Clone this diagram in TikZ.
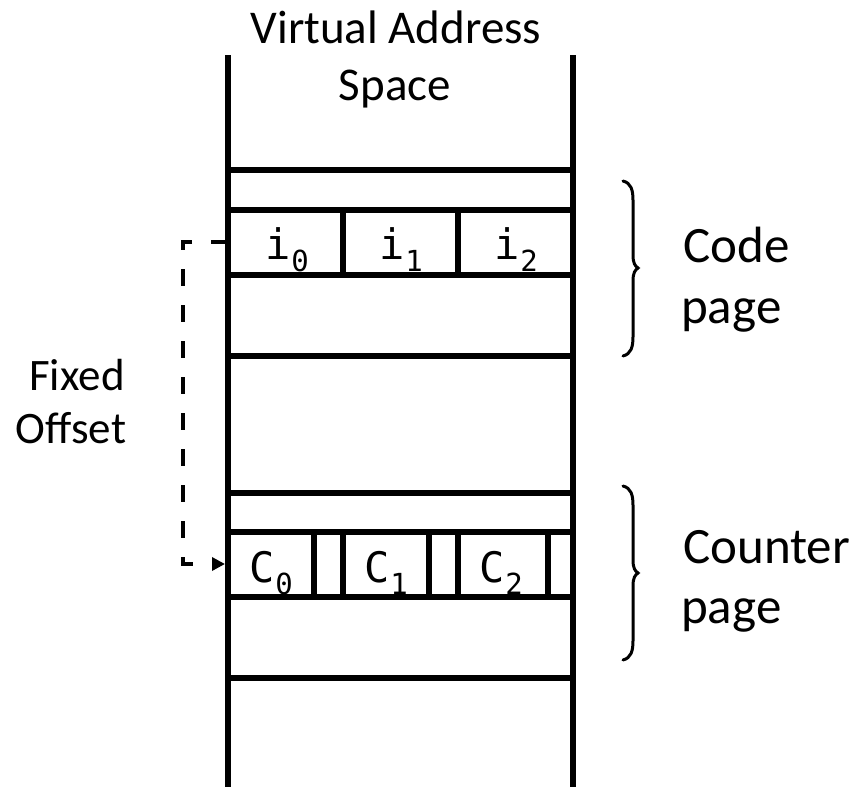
\documentclass[tikz,border=0pt]{standalone}
\usepackage{fontspec}
\setmainfont{Carlito}
\newfontfamily\codefont{DejaVu Sans Mono}
\usetikzlibrary{arrows.meta}
% monospace cell label with a lowered small index
\newcommand{\cellsub}[2]{{\codefont\fontsize{42}{42}\selectfont #1\hspace{1pt}\raisebox{-12pt}{\fontsize{29}{29}\selectfont #2}}}
\begin{document}
\begin{tikzpicture}[x=1pt,y=-1pt,
  wall/.style={line width=6pt},
  bar/.style={line width=6pt},
  ttl/.style={font=\fontsize{47}{57}\selectfont, anchor=base, inner sep=0pt},
  side/.style={font=\fontsize{45}{55}\selectfont, anchor=base, inner sep=0pt},
  pagelbl/.style={font=\fontsize{51}{61}\selectfont, anchor=base west, inner sep=0pt},
  cellt/.style={anchor=base, inner sep=0pt},
  offset/.style={line width=4pt, dash pattern=on 17pt off 19pt},
  bracestyle/.style={line width=3pt, line cap=round}]
\useasboundingbox (0,0) rectangle (863,787);

% address space walls
\draw[wall] (228,55) -- (228,787);
\draw[wall] (573,55) -- (573,787);

% horizontal page boundaries
\foreach \y in {170,210,275,356,493,532,597,678}
  \draw[bar] (228,\y) -- (573,\y);

% code row dividers
\draw[bar] (343,210) -- (343,275);
\draw[bar] (458,210) -- (458,275);
% counter row dividers
\foreach \x in {314,343,429,458,548}
  \draw[bar] (\x,532) -- (\x,597);

% title
\node[ttl] (title1) at (396,43) {Virtual Address};
\node[ttl] (title2) at (395,100) {Space};

% cell labels
\node[cellt] (i0) at (287,259) {\cellsub{i}{0}};
\node[cellt] (i1) at (401,259) {\cellsub{i}{1}};
\node[cellt] (i2) at (516,259) {\cellsub{i}{2}};
\node[cellt] (c0) at (271,582) {\cellsub{C}{0}};
\node[cellt] (c1) at (386,582) {\cellsub{C}{1}};
\node[cellt] (c2) at (501,582) {\cellsub{C}{2}};

% row anchors for the offset arrow
\coordinate (coderow) at (228,242);
\coordinate (ctrrow) at (225,564);

\draw[offset, -{Triangle[length=13pt,width=13pt]}]
  (coderow) -- (183,242) -- (183,564) -- (ctrrow);

\node[side] (fixed) at (77,390) {Fixed};
\node[side] (offsetlbl) at (71,443) {Offset};

% braces
\draw[bracestyle] (623,181) .. controls (631,183) and (633,190) .. (633,200)
  -- (633,255) .. controls (633,263) and (635,266) .. (638,268)
  .. controls (635,270) and (633,273) .. (633,281)
  -- (633,337) .. controls (633,347) and (631,354) .. (623,356);
\draw[bracestyle] (623,486) .. controls (631,488) and (633,495) .. (633,505)
  -- (633,560) .. controls (633,568) and (635,571) .. (638,573)
  .. controls (635,575) and (633,578) .. (633,586)
  -- (633,641) .. controls (633,651) and (631,658) .. (623,660);

\node[pagelbl] (code1) at (683,262) {Code};
\node[pagelbl] (code2) at (681,323) {page};
\node[pagelbl] (ctr1) at (683,563) {Counter};
\node[pagelbl] (ctr2) at (681,623) {page};
\end{tikzpicture}
\end{document}
